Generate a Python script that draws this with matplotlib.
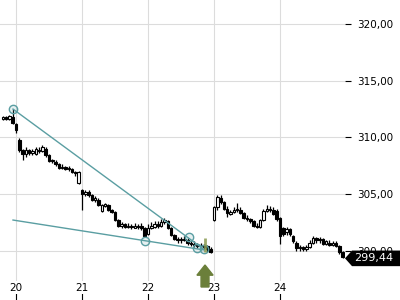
import matplotlib
matplotlib.use('Agg')
import matplotlib.pyplot as plt
import numpy as np
from matplotlib.patches import Polygon, FancyArrow
from matplotlib.transforms import IdentityTransform

# ---- data ----
t_start = 19.8
t_step = 0.05
opens = [311.6, 311.8, 311.6, 311.8, 311.2, 309.8, 308.9, 308.5, 308.9, 308.6,
         308.5, 308.9, 308.8, 309.0, 308.4, 307.9, 307.8, 307.6, 307.3, 307.4,
         307.2, 307.2, 306.9, 306.0, 305.3, 305.0, 305.2, 304.9, 304.5, 304.5,
         303.5, 303.9, 304.0, 303.6, 303.4, 302.7, 302.2, 302.3, 302.1, 302.2,
         302.0, 302.2, 302.2, 302.0, 301.5, 302.0, 302.1, 302.3, 302.2, 302.5,
         302.6, 302.0, 301.4, 301.0, 300.9, 301.0, 300.9, 300.7, 300.6, 300.5,
         300.4, 300.5, 300.4, 300.1, 302.7, 303.8, 304.6, 304.3, 303.7, 303.2,
         303.4, 303.7, 303.6, 303.3, 302.9, 302.8, 302.6, 302.2, 302.1, 302.7,
         303.5, 303.7, 303.6, 303.5, 302.9, 302.0, 301.6, 301.9, 301.3, 300.7,
         300.2, 300.3, 300.1, 300.3, 300.7, 301.1, 300.9, 301.0, 300.6, 300.7,
         300.5, 300.7, 300.4, 299.9]
highs = [311.9, 311.9, 312.0, 312.5, 311.3, 309.9, 309.0, 309.1, 309.0, 309.0,
         309.1, 309.1, 309.3, 309.1, 308.5, 308.1, 308.0, 307.7, 307.6, 307.5,
         307.5, 307.3, 307.0, 307.0, 305.4, 305.3, 305.3, 305.0, 304.8, 304.6,
         304.1, 304.2, 304.1, 303.7, 303.5, 302.8, 302.5, 302.4, 302.4, 302.3,
         302.4, 302.3, 302.4, 302.1, 302.3, 302.5, 302.6, 302.6, 302.8, 302.9,
         302.7, 302.1, 301.5, 301.2, 301.2, 301.3, 301.1, 300.9, 300.8, 300.7,
         300.7, 300.6, 300.5, 300.3, 303.9, 304.9, 304.9, 304.4, 303.9, 303.6,
         303.8, 304.2, 303.8, 303.4, 303.1, 302.9, 302.7, 302.4, 302.8, 303.7,
         304.0, 303.9, 303.8, 303.7, 303.0, 302.1, 302.1, 302.0, 301.4, 300.8,
         300.5, 300.4, 300.5, 300.9, 301.3, 301.2, 301.2, 301.1, 300.9, 300.9,
         300.8, 300.8, 300.5, 300.0]
lows = [311.5, 311.5, 311.5, 311.2, 310.4, 308.7, 308.0, 308.3, 308.4, 308.4,
        308.4, 308.6, 308.7, 308.3, 307.8, 307.7, 307.5, 307.2, 307.2, 307.1,
        307.0, 306.8, 306.6, 305.9, 303.6, 304.8, 304.7, 304.4, 304.3, 303.9,
        303.4, 303.8, 303.5, 303.3, 302.6, 302.1, 302.0, 302.0, 302.0, 301.9,
        302.0, 301.9, 301.8, 301.2, 301.4, 301.9, 302.0, 302.0, 302.1, 302.3,
        301.9, 301.3, 300.9, 300.7, 300.7, 300.8, 300.5, 300.4, 300.3, 300.2,
        300.2, 300.1, 299.9, 299.8, 302.6, 303.6, 304.1, 303.6, 303.0, 303.1,
        303.3, 303.4, 303.2, 302.8, 302.6, 302.4, 302.1, 302.0, 302.0, 302.6,
        303.4, 303.4, 303.1, 302.6, 300.6, 301.3, 301.4, 301.3, 300.7, 300.0,
        300.0, 300.0, 300.0, 300.2, 300.6, 300.7, 300.7, 300.5, 300.5, 300.4,
        300.4, 300.3, 299.7, 299.3]
closes = [311.8, 311.6, 311.9, 311.3, 310.6, 308.9, 308.5, 308.9, 308.6, 308.8,
          309.0, 308.8, 309.1, 308.4, 307.9, 308.0, 307.6, 307.3, 307.4, 307.2,
          307.3, 306.9, 306.8, 306.9, 305.0, 305.2, 304.9, 304.5, 304.6, 304.0,
          304.0, 304.1, 303.6, 303.4, 302.7, 302.2, 302.3, 302.1, 302.2, 302.1,
          302.2, 302.1, 302.0, 301.3, 302.0, 302.2, 302.3, 302.2, 302.5, 302.7,
          302.0, 301.4, 301.0, 300.9, 301.0, 300.9, 300.7, 300.6, 300.5, 300.4,
          300.5, 300.3, 300.1, 299.9, 303.8, 304.7, 304.3, 303.7, 303.3, 303.4,
          303.6, 303.6, 303.3, 302.9, 302.8, 302.6, 302.2, 302.1, 302.7, 303.5,
          303.7, 303.6, 303.2, 302.8, 301.3, 301.5, 301.9, 301.5, 300.8, 300.2,
          300.3, 300.1, 300.3, 300.7, 301.1, 300.9, 301.0, 300.6, 300.8, 300.5,
          300.7, 300.4, 299.9, 299.44]

# trend lines (day, price)
upper_line_x = [19.955, 22.848]
upper_line_y = [312.49, 300.10]
lower_line_x = [19.955, 22.848]
lower_line_y = [302.69, 300.05]
circle_x = [19.955, 21.955, 22.621, 22.742, 22.848]
circle_y = [312.49, 300.88, 301.19, 300.22, 300.09]

signal_x = 22.864
signal_bar = (299.9, 301.1)
arrow_base = 296.78
arrow_top = 298.72

x_ticks = [20, 21, 22, 23, 24]
x_labels = ['20', '21', '22', '23', '24']
y_ticks = [300, 305, 310, 315, 320]
y_labels = ['300,00', '305,00', '310,00', '315,00', '320,00']
last_label = '299,44'

# ---- figure ----
W, H = 400, 300
fig = plt.figure(figsize=(4, 3), dpi=100)
fig.patch.set_facecolor('white')
ax = fig.add_axes([0, 0, 345 / W, 1])
ax.set_xlim(19.758, 24.985)
ax.set_ylim(295.63, 322.12)

for s in ax.spines.values():
    s.set_visible(False)
ax.set_xticks(x_ticks)
ax.set_xticklabels(x_labels)
ax.set_yticks(y_ticks)
ax.set_yticklabels(y_labels)
ax.yaxis.tick_right()
ax.grid(True, color='#dcdcdc', linewidth=0.8, zorder=0)
ax.set_axisbelow(True)
ax.tick_params(axis='x', direction='in', length=5, width=0.8, color='black',
               pad=-12.5, labelsize=7.5, labelcolor='black')
ax.tick_params(axis='y', direction='out', length=4, width=0.8, color='black',
               pad=5, labelsize=7.5, labelcolor='black')
for lbl in ax.get_xticklabels():
    lbl.set_bbox(dict(facecolor='white', edgecolor='none', pad=1.0))

# candles
n = len(closes)
times = t_start + t_step * np.arange(n)
o = np.array(opens); h = np.array(highs); l = np.array(lows); c = np.array(closes)
ax.vlines(times, l, h, color='black', linewidth=0.9, zorder=3)
up = c >= o
body_w = 0.038
ax.bar(times[up], (c - o)[up], bottom=o[up], width=body_w, facecolor='white',
       edgecolor='black', linewidth=0.8, zorder=4)
ax.bar(times[~up], (c - o)[~up], bottom=o[~up], width=body_w, facecolor='black',
       edgecolor='black', linewidth=0.8, zorder=4)

# trend lines
teal = '#5a9ea2'
ax.plot(upper_line_x, upper_line_y, color=teal, linewidth=1.0, zorder=5)
ax.plot(lower_line_x, lower_line_y, color=teal, linewidth=1.0, zorder=5)
ax.plot(circle_x, circle_y, linestyle='none', marker='o', markersize=6,
        markeredgecolor=teal, markerfacecolor=(0.35, 0.62, 0.64, 0.15),
        markeredgewidth=1.0, zorder=6)

# signal
olive = '#6b7f3a'
ax.vlines([signal_x], [signal_bar[0]], [signal_bar[1]], color='#8a9a50',
          linewidth=2.0, alpha=0.85, zorder=6)
ax.add_patch(FancyArrow(signal_x, arrow_base, 0, arrow_top - arrow_base,
                        width=0.12, head_width=0.245, head_length=0.9,
                        length_includes_head=True, color=olive, zorder=6))

# last price label
fig.canvas.draw()
px, py = ax.transData.transform((ax.get_xlim()[1], closes[-1]))
px = 345
py = py - 1.5
hh = 7.8
poly = Polygon([(px, py), (px + 7, py + hh), (W, py + hh), (W, py - hh), (px + 7, py - hh)],
               closed=True, facecolor='black', edgecolor='none',
               transform=IdentityTransform(), zorder=10)
fig.add_artist(poly)
fig.text((px + 9) / W, py / H, last_label, color='white', fontsize=8,
         va='center', ha='left', zorder=11)

fig.savefig('out.png', dpi=100, facecolor='white')
